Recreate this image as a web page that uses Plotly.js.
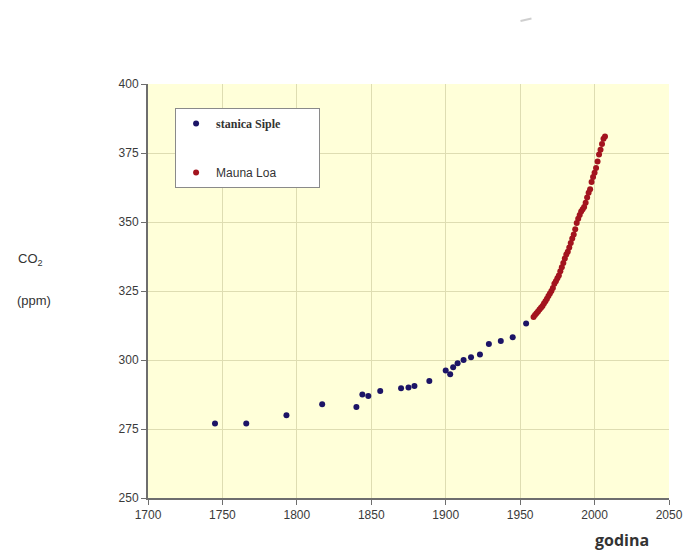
<!DOCTYPE html>
<html>
<head>
<meta charset="utf-8">
<script src="https://cdn.plot.ly/plotly-3.0.1.min.js"></script>
<style>html,body{margin:0;padding:0;background:#fff;}#chart{width:685px;height:552px;}</style>
</head>
<body>
<div id="chart"></div>
<script>
// Siple station ice-core data (year, CO2 ppm)
const sipleYears = [1745, 1766, 1793, 1817, 1840, 1844, 1848, 1856, 1870, 1875, 1879, 1889, 1900, 1903, 1905, 1908, 1912, 1917, 1923, 1929, 1937, 1945, 1954];
const sipleCO2   = [277, 277, 280, 284, 283, 287.5, 287, 288.8, 289.8, 290, 290.6, 292.4, 296.2, 294.8, 297.4, 298.8, 300, 301, 302, 305.8, 306.9, 308.2, 313.2];

// Mauna Loa annual means (year, CO2 ppm)
const maunaYears = [1959,1960,1961,1962,1963,1964,1965,1966,1967,1968,1969,1970,1971,1972,1973,1974,1975,1976,1977,1978,1979,1980,1981,1982,1983,1984,1985,1986,1987,1988,1989,1990,1991,1992,1993,1994,1995,1996,1997,1998,1999,2000,2001,2002,2003,2004,2005,2006,2007];
const maunaCO2   = [315.6,316.3,316.9,317.6,318.3,318.9,319.6,320.5,321.3,322.2,323.2,324.1,325.0,326.1,327.6,328.5,329.6,330.6,332.2,333.6,335.1,336.8,338.2,339.2,340.8,342.4,344.0,345.5,347.4,349.6,351.2,352.5,353.8,354.6,355.4,357.0,358.9,360.6,361.9,364.5,366.3,367.8,369.6,371.9,374.5,376.2,378.3,380.2,381.0];

const xTicks = [1700, 1750, 1800, 1850, 1900, 1950, 2000, 2050];
const yTicks = [250, 275, 300, 325, 350, 375, 400];

const pad = '&nbsp;'.repeat(10);

const traces = [
  {
    x: sipleYears, y: sipleCO2, type: 'scatter', mode: 'markers',
    name: '<b><span style="font-family:\'Liberation Serif\'">stanica Siple</span></b>' + pad,
    legendgroup: 'a',
    marker: {color: '#1c1466', size: 6}
  },
  {
    x: maunaYears, y: maunaCO2, type: 'scatter', mode: 'markers',
    name: 'Mauna Loa',
    legendgroup: 'b',
    marker: {color: '#a3141e', size: 6}
  }
];

const axisCommon = {
  showline: true, linecolor: '#6e6e6e', linewidth: 2,
  ticks: 'outside', ticklen: 5, tickcolor: '#6e6e6e', tickwidth: 1,
  showgrid: true, gridcolor: '#deddb2', gridwidth: 1,
  zeroline: false, mirror: false,
  tickfont: {family: 'Liberation Sans, Arial, sans-serif', size: 12, color: '#3a3a3a'}
};

const layout = {
  width: 685, height: 552,
  margin: {l: 148, r: 16, t: 84, b: 54},
  paper_bgcolor: '#ffffff',
  plot_bgcolor: '#ffffd9',
  showlegend: true,
  legend: {
    x: 0.052, y: 0.942, xanchor: 'left', yanchor: 'top',
    bgcolor: '#ffffff', bordercolor: '#8a8a8a', borderwidth: 1,
    font: {family: 'Liberation Sans, Arial, sans-serif', size: 12, color: '#333'},
    tracegroupgap: 30, traceorder: 'grouped'
  },
  xaxis: Object.assign({}, axisCommon, {
    range: [1700, 2050], tickvals: xTicks, ticktext: xTicks.map(String)
  }),
  yaxis: Object.assign({}, axisCommon, {
    range: [250, 400], tickvals: yTicks, ticktext: yTicks.map(String)
  }),
  annotations: [
    {text: 'CO<sub>2</sub>', xref: 'paper', yref: 'paper', x: -0.225, y: 0.575,
     xanchor: 'center', yanchor: 'middle', showarrow: false,
     font: {family: 'Liberation Sans, Arial, sans-serif', size: 13, color: '#333'}},
    {text: '(ppm)', xref: 'paper', yref: 'paper', x: -0.219, y: 0.478,
     xanchor: 'center', yanchor: 'middle', showarrow: false,
     font: {family: 'Liberation Sans, Arial, sans-serif', size: 13, color: '#333'}},
    {text: '<b>godina</b>', xref: 'paper', yref: 'paper', x: 0.91, y: -0.07,
     xanchor: 'center', yanchor: 'top', showarrow: false,
     font: {family: 'Open Sans, Noto Sans, sans-serif', size: 16, color: '#333'}}
  ],
  shapes: [
    {type: 'line', xref: 'paper', yref: 'paper', x0: 0.715, y0: 1.152, x1: 0.736, y1: 1.158,
     line: {color: '#cfcfcf', width: 2}}
  ]
};

Plotly.newPlot('chart', traces, layout, {displayModeBar: false, staticPlot: true});
</script>
</body>
</html>
